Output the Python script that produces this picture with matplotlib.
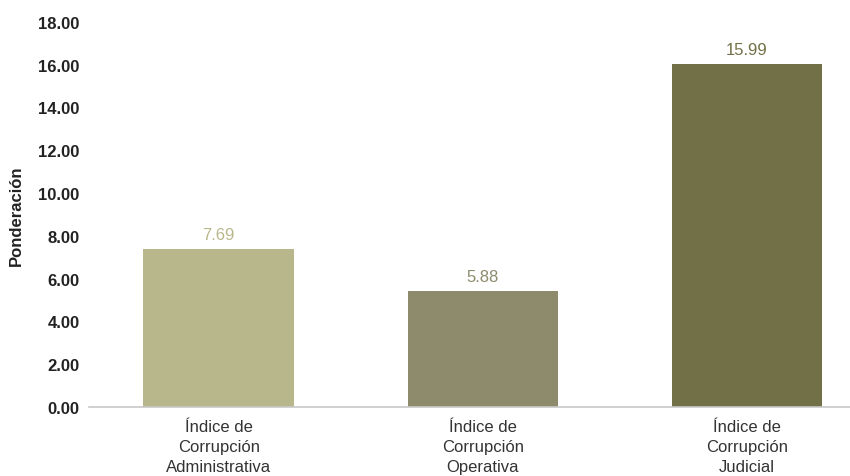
import matplotlib.pyplot as plt

plt.rcParams['font.family'] = ['Liberation Sans', 'DejaVu Sans']

categories = ["Índice de\nCorrupción\nAdministrativa",
              "Índice de\nCorrupción\nOperativa",
              "Índice de\nCorrupción\nJudicial"]
# bar heights as drawn in the chart, and the printed labels
heights = [7.40, 5.42, 16.05]
labels = ["7.69", "5.88", "15.99"]
colors = ["#b8b78c", "#8d8b6c", "#727046"]
yticks = [0, 2, 4, 6, 8, 10, 12, 14, 16, 18]

fig = plt.figure(figsize=(8.5, 4.77), dpi=100)
ax = fig.add_axes([0.105, 0.145, 0.895, 0.807])

x = range(len(categories))
bars = ax.bar(x, heights, width=0.57, color=colors)

for b, lab, c in zip(bars, labels, colors):
    ax.annotate(lab, (b.get_x() + b.get_width() / 2, b.get_height()),
                xytext=(0, 5), textcoords="offset points",
                ha="center", va="bottom", fontsize=12, color=c)

ax.set_xlim(-0.49, 2.39)
ax.set_ylim(0, 18)
ax.set_yticks(yticks)
ax.set_yticklabels([f"{v:.2f}" for v in yticks], fontsize=12,
                   fontweight="bold", color="#222222")
ax.set_xticks(list(x))
ax.set_xticklabels(categories, fontsize=12, color="#333333", linespacing=1.4)
ax.tick_params(axis="both", length=0)
ax.tick_params(axis="y", pad=7)
ax.tick_params(axis="x", pad=9)

for s in ["top", "right", "left"]:
    ax.spines[s].set_visible(False)
ax.spines["bottom"].set_color("#c8c8c8")
ax.spines["bottom"].set_linewidth(1.2)

ax.set_ylabel("Ponderación", fontsize=12, fontweight="bold", color="#222222",
              labelpad=10)

fig.savefig("out.png", dpi=100)
